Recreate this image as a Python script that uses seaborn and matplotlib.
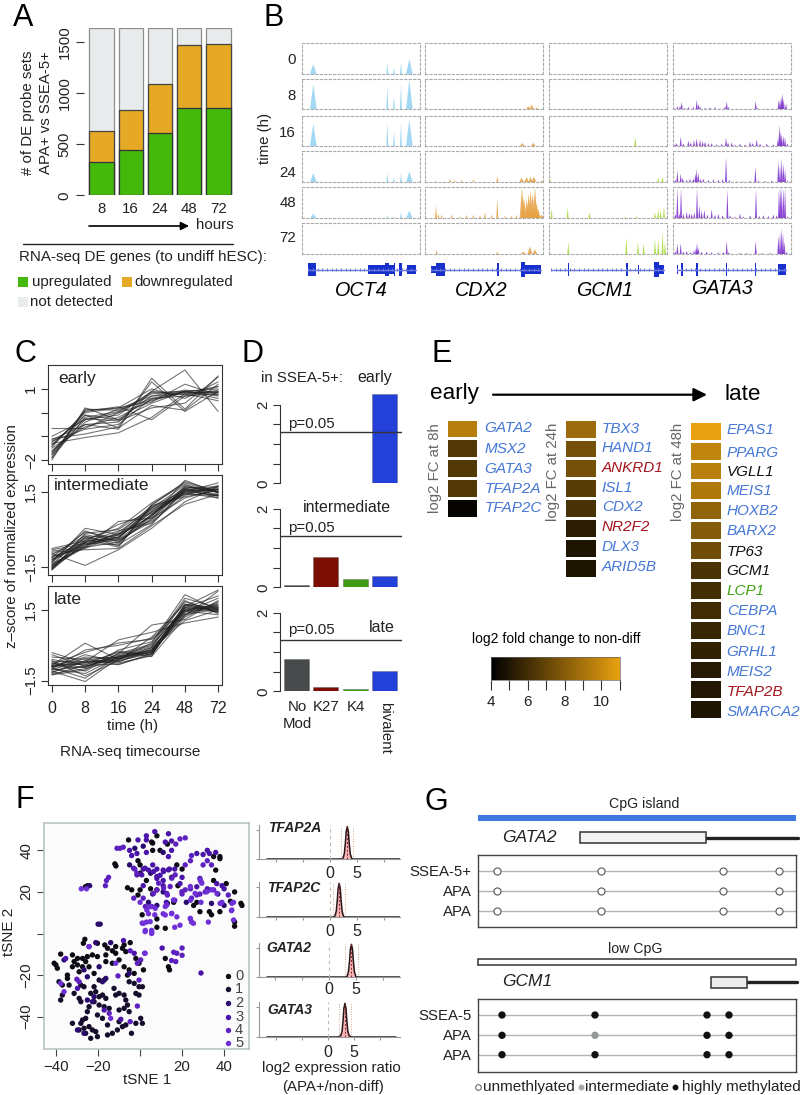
import numpy as np
import pandas as pd
import matplotlib
matplotlib.use("Agg")
import matplotlib.pyplot as plt
from matplotlib.colors import LinearSegmentedColormap
from matplotlib.cm import ScalarMappable
from matplotlib.colors import Normalize
from matplotlib.patches import Rectangle
import seaborn as sns

# ---------- Panel A data
hours = ["8", "16", "24", "48", "72"]
de_up = [325, 445, 615, 860, 855]
de_down = [305, 395, 480, 610, 625]
de_total = [1640, 1640, 1640, 1640, 1640]

# ---------- Panel B data (genomic bin, relative height)
track_times = ["0", "8", "16", "24", "48", "72"]
oct4_bins = [130, 352, 372, 393, 418]
oct4_heights = [[.33, .35, .2, .4, .5], [.85, .75, .45, .85, 1], [.75, .8, .5, .8, .9],
                [.3, .3, .15, .3, .35], [.15, .1, .06, .2, .25], [0, 0, 0, 0, 0]]
cdx2_tracks = [
    [],
    [(775, .1), (785, .16), (800, .05)],
    [(757, .1), (790, .1)],
    [(497, .05), (540, .12), (555, .07), (575, .08), (610, .1), (682, .2), (755, .15), (770, .17),
     (782, .17), (792, .18), (815, .05)],
    [(498, .42), (505, .15), (515, .12), (545, .13), (570, .06), (590, .12), (610, .12), (630, .1),
     (645, .2), (665, .12), (682, .65), (705, .08), (725, .08), (740, .12), (756, 1.0), (762, .7),
     (770, .6), (776, .8), (782, .9), (788, .8), (795, 1.0), (800, .5), (805, .3), (815, .12)],
    [(500, .12), (682, .08), (760, .08), (780, .25), (795, .15)],
]
gcm1_tracks = [
    [], [],
    [(1096, .3)],
    [(840, .15), (1165, .15), (1178, .2)],
    [(845, .3), (893, .35), (958, .2), (1065, .05), (1100, .07), (1155, .2), (1165, .3), (1172, .25), (1182, .4)],
    [(895, .4), (1069, .55), (1104, .4), (1121, .35), (1155, .5), (1165, .5), (1178, .75), (1185, .4)],
]
gata3_tracks = [
    [],
    [(1215, .03), (1222, .1), (1230, .12), (1235, .25), (1245, .05), (1255, .08), (1270, .08), (1280, .32), (1285, .18),
     (1290, .1), (1305, .05), (1320, .07), (1335, .08), (1350, .03), (1365, .1), (1370, .27), (1375, .08), (1400, .02),
     (1430, .02), (1457, .28), (1462, .05), (1490, .03), (1510, .03), (1526, .3), (1530, .35), (1534, .42), (1537, .55),
     (1541, .35), (1548, .2)],
    [(1215, .05), (1220, .1), (1232, .32), (1240, .08), (1255, .18), (1262, .12), (1272, .2), (1280, .25), (1290, .22),
     (1298, .16), (1305, .15), (1315, .1), (1325, .1), (1340, .06), (1355, .08), (1368, .28), (1374, .12), (1385, .12),
     (1395, .04), (1410, .08), (1425, .05), (1440, .14), (1448, .1), (1460, .22), (1470, .08), (1490, .08), (1510, .05),
     (1524, .25), (1528, .72), (1532, .5), (1535, .4), (1540, .35), (1545, .3), (1552, .08)],
    [(1216, .08), (1222, .37), (1232, .28), (1238, .15), (1250, .08), (1260, .12), (1270, .12), (1276, .28), (1280, .42),
     (1285, .3), (1292, .12), (1300, .12), (1315, .08), (1330, .1), (1345, .08), (1358, .1), (1368, .82), (1378, .08),
     (1400, .03), (1420, .03), (1440, .05), (1456, .5), (1465, .05), (1485, .05), (1505, .06), (1525, .7), (1530, .55),
     (1535, .78), (1540, .6), (1545, .42), (1553, .05)],
    [(1216, .15), (1222, 1), (1228, .15), (1233, 1), (1240, .15), (1250, .22), (1258, .18), (1265, .15), (1273, .2),
     (1281, 1), (1288, .42), (1295, .25), (1303, .28), (1312, .12), (1325, .3), (1335, .12), (1345, .15), (1358, .1),
     (1372, .95), (1380, .1), (1395, .05), (1410, .15), (1420, .06), (1440, .1), (1458, .95), (1468, .08), (1480, .1),
     (1495, .08), (1510, .12), (1520, .1), (1527, 1), (1531, 1), (1535, 1), (1540, 1), (1545, 1), (1553, .06)],
    [(1216, .08), (1222, .35), (1232, .35), (1240, .08), (1250, .1), (1262, .06), (1272, .12), (1278, .2), (1281, .37),
     (1285, .2), (1295, .07), (1310, .08), (1325, .06), (1345, .05), (1360, .06), (1370, .42), (1376, .05), (1410, .03),
     (1430, .03), (1457, .42), (1475, .03), (1500, .03), (1525, .6), (1530, .7), (1535, .85), (1539, .7), (1543, .4), (1550, .06)],
]
oct4_exons = [(115, 137, .9), (295, 345, .6), (345, 358, .9), (358, 372, .7), (372, 376, .9), (388, 396, .9), (410, 437, .7)]
cdx2_exons = [(483, 497, .5), (497, 524, .9), (680, 686, .9), (753, 766, 1), (766, 812, .6)]
gcm1_exons = [(893, 896, .9), (1069, 1074, .9), (1104, 1106, .7), (1121, 1123, .7), (1152, 1168, 1), (1168, 1182, .6)]
gata3_exons = [(1220, 1224, .6), (1232, 1240, .9), (1277, 1285, .9), (1368, 1371, .9), (1456, 1458, .9), (1525, 1548, .8)]

# ---------- Panel C data
time_labels = ["0", "8", "16", "24", "48", "72"]
early_lines = [
    [-2.0, 0.2, -0.3, 0.7, 0.8, 0.9], [-1.9, 0.15, 0.1, 0.6, 0.7, 0.8], [-1.8, 0.1, 0.2, 0.5, 0.9, 0.7],
    [-1.7, -0.1, -0.3, 0.4, 0.9, 1.0], [-1.65, -0.3, 0.0, 0.8, 0.85, 0.85], [-1.6, -0.5, -0.4, 0.9, 0.75, 1.1],
    [-1.5, -0.6, -0.2, 0.55, 0.85, 1.1], [-1.4, 0.0, 0.2, 1.0, 0.6, 1.3], [-1.35, -0.1, -0.65, 0.3, 0.1, 1.2],
    [-1.3, -1.05, -0.85, -0.2, 0.8, 0.5], [-1.2, -0.7, -0.5, 0.6, 0.9, 0.6], [-1.15, -0.5, -0.7, 1.45, 0.15, 1.55],
    [-1.1, -0.9, -0.6, 1.3, 0.05, 0.9], [-1.0, -0.3, -0.1, 0.9, 1.8, 0.05], [-0.67, -0.67, 0.0, 0.45, 1.2, 0.75],
    [-1.45, 0.05, 0.25, -0.3, 0.7, 0.95], [-1.25, -0.25, -0.35, 0.2, 0.4, 1.5], [-1.9, -0.2, 0.05, 0.85, 0.9, 0.75],
    [-1.75, -0.4, 0.15, 0.7, 0.95, 0.85],
]
intermediate_lines = [
    [-1.6, -0.5, -0.4, 0.6, 1.7, 1.5], [-1.55, -0.3, -0.25, 0.55, 1.6, 1.4], [-1.5, -0.6, -0.3, 0.7, 1.5, 1.6],
    [-1.45, -0.45, -0.35, 0.9, 1.55, 1.35], [-1.4, -0.2, -0.45, 0.4, 1.7, 1.5], [-1.35, -0.7, -0.1, 0.8, 1.4, 1.7],
    [-1.3, 0.05, -0.2, 0.5, 1.95, 1.45], [-1.25, -0.05, -0.5, 0.6, 1.45, 1.6], [-1.2, -0.35, -0.7, 1.0, 1.8, 1.3],
    [-1.15, -0.6, -0.4, 0.3, 1.35, 1.75], [-1.1, -0.5, -0.05, 0.25, 1.5, 1.85], [-1.05, -0.75, -0.2, 0.75, 1.65, 1.25],
    [-1.0, -0.25, -0.65, 0.95, 1.3, 1.55], [-0.95, -1.42, -0.8, 0.05, 1.1, 1.7], [-0.9, -0.8, -0.75, 0.15, 1.0, 1.4],
    [-0.85, -0.7, 0.32, 0.45, 1.25, 1.6], [-0.8, -0.55, -0.6, 0.2, 1.6, 1.5], [-0.75, -0.45, 0.2, 0.65, 1.4, 1.35],
    [-1.6, -0.15, 0.0, 0.85, 1.75, 1.5], [-1.5, -0.4, 0.05, 1.05, 1.85, 1.45], [-1.4, -0.65, -0.15, 0.35, 1.55, 1.6],
    [-1.3, -0.3, -0.55, 0.55, 1.6, 1.65], [-1.2, -0.55, -0.3, 0.7, 1.5, 1.35], [-1.55, -0.5, -0.2, 0.95, 1.9, 1.5],
    [-1.1, -0.1, -0.35, 0.85, 1.45, 1.25], [-1.45, -0.7, -0.5, 0.45, 1.65, 1.7],
]
late_lines = [
    [-1.25, -0.85, -0.8, -0.4, 1.6, 1.5], [-1.2, -1.0, -0.6, -0.3, 1.3, 1.8], [-1.15, -0.7, -0.75, -0.45, 1.7, 1.4],
    [-1.1, -1.54, -0.55, -0.2, 1.5, 1.6], [-1.05, -0.55, -0.83, -0.35, 1.4, 2.0], [-1.0, -1.2, -0.5, -0.1, 1.9, 1.35],
    [-0.95, -0.4, -0.7, -0.25, 1.25, 2.3], [-0.9, -0.95, -0.45, -0.05, 1.6, 1.55], [-0.85, 0.09, -0.6, 0.1, 2.15, 1.5],
    [-0.8, -0.3, 0.1, 0.25, 1.35, 1.7], [-0.75, -1.1, -0.35, 0.86, 1.1, 1.9], [-0.7, -0.7, 0.23, 0.55, 0.95, 1.2],
    [-0.65, -1.3, -0.65, 0.35, 1.75, 1.45], [-0.6, -0.85, -0.25, -0.4, 1.55, 1.7], [-0.5, -0.6, -0.5, -0.2, 1.45, 1.3],
    [-0.4, -0.9, -0.4, 0.0, 2.0, 1.6], [-0.31, -0.75, -0.3, -0.48, 1.2, 1.85], [-1.26, -1.05, -0.2, 0.15, 1.85, 1.4],
    [-1.0, -0.2, 0.0, 0.3, 1.5, 1.75], [-0.9, -0.5, -0.55, -0.3, 1.65, 2.35], [-1.15, -0.65, -0.7, -0.15, 1.05, 1.5],
    [-0.85, -0.8, -0.6, -0.1, 1.3, 1.55], [-0.95, -1.4, -0.45, -0.3, 1.75, 1.6], [-0.75, -0.95, -0.35, 0.05, 1.45, 1.65],
    [-1.05, -0.9, -0.5, -0.2, 1.6, 2.1], [-0.85, -0.7, -0.65, -0.35, 1.5, 1.45], [-0.9, -0.75, -0.55, -0.25, 1.7, 1.55],
]

# ---------- Panel D data
mark_labels = ["No\nMod", "K27", "K4", "bivalent"]
enrich_early = [0.01, 0.01, 0.01, 2.28]
enrich_intermediate = [0.05, 0.78, 0.2, 0.28]
enrich_late = [0.82, 0.12, 0.05, 0.52]
p_threshold = 1.3

# ---------- Panel E data
genes_8h = ["GATA2", "MSX2", "GATA3", "TFAP2A", "TFAP2C"]
fc_8h = [9.5, 6.5, 6.5, 6.5, 4.2]
genes_24h = ["TBX3", "HAND1", "ANKRD1", "ISL1", "CDX2", "NR2F2", "DLX3", "ARID5B"]
fc_24h = [8.7, 7.5, 7.5, 6.7, 6.2, 5.3, 4.9, 4.9]
genes_48h = ["EPAS1", "PPARG", "VGLL1", "MEIS1", "HOXB2", "BARX2", "TP63", "GCM1", "LCP1", "CEBPA", "BNC1",
             "GRHL1", "MEIS2", "TFAP2B", "SMARCA2"]
fc_48h = [11, 9.8, 9.6, 9.3, 8.4, 8.0, 7.4, 6.2, 6.0, 5.9, 5.7, 5.5, 5.2, 5.0, 4.9]

# ---------- Panel F data
tsne_c0 = [(-5.5, 45), (8, 47), (6, 43.5), (-12, 33.5), (-11.5, 32.5), (-25, 23), (-26, 22.5), (1, 9), (38, 37), (38, 36),
           (35, 37), (17.5, 33), (20, 31), (15, 27), (18, 23), (-6, 22), (-4, 21), (-1, 18.5), (0, 21), (5, 21.5),
           (8, 21), (3, 25.5), (0, 29), (-1, 35), (0, 33), (5.5, 44), (13, 43), (9.5, 40), (6, 40), (36, 30.5),
           (35, 25.5), (41, 24), (45, 20), (48, 14.5), (48.5, 13.5), (45, 5.5), (45, 3.5), (43, 15.5), (38, 10.5),
           (33, 10.5), (34, 9), (28.5, 10.5), (25.5, 13.5), (27, 15), (16, 15), (13, 14.5), (8, 7), (12, 2.5), (8, 3),
           (12, -12), (13.5, -16), (14, -17.5),
           (-26.3, -2.8), (-27, -4.7), (-20.3, -4.7), (-16.8, -5.5), (-15.5, -7.1), (-11.6, -6.3), (-7.6, -5.5), (-4.7, -4.4),
           (-13.2, -8.3), (-11.6, -9.5), (-8.4, -7.1), (-6.8, -8.7), (-2, -12), (1.6, -17.5), (-37.8, -9.9), (-40.1, -15.1),
           (-40.9, -14.3), (-39.4, -16.7), (-32.2, -10.3), (-31.4, -13.5), (-29.8, -12), (-27.4, -12), (-25.1, -11.1),
           (-25.9, -13.5), (-22.7, -10.3), (-20.3, -11.1), (-32.2, -16), (-29.8, -15.1), (-27.4, -16), (-29, -18.4), (-24.3, -16),
           (-21.9, -19.2), (-34.6, -20), (-34.6, -21.6), (-16.3, -10.3), (-16.3, -13.5), (-13.2, -14.3), (-10, -12.7),
           (-7.6, -16), (-5.2, -17.5), (-2.8, -19.2), (-6, -20), (-0.5, -14.3)]
tsne_c1 = [(-38.6, -23.2), (-37, -24.8), (-33.8, -24.8), (-28.2, -24.8), (-26.7, -25.6), (-21.9, -25.6), (-19.5, -22.4),
           (-17.1, -22.4), (-12.4, -26.4), (-10, -28.8), (-5.2, -23.2), (-2.8, -24), (-0.5, -25.6), (1.1, -25.6), (-2, -28.8),
           (-0.5, -29.6), (-37, -29.6), (-37.8, -32), (-31.4, -28.8), (-29, -31.2), (-28.2, -32.8), (-23.5, -28.8), (-21.1, -28),
           (-19.5, -30.4), (-17.9, -29.6), (-16.3, -31.2), (-11.6, -29.6), (-7.6, -29.6), (-6.8, -32), (-24.3, -35.2),
           (-25.1, -37.6), (-21.9, -32.8), (-19.5, -34.4), (-17.1, -35.2), (-14.7, -36), (-20.3, -39.2), (-17.9, -40.8),
           (-25.9, -40.8), (-27.4, -41.6), (-10, -36.8), (-7.6, -36), (-6, -34.4), (-5.2, -37.6), (-32.2, -43.2), (-28.2, -43.2),
           (-29, -46.4), (-26.7, -45.6), (-24.3, -44.8), (-22.7, -46.4), (-21.1, -47.2), (-25.9, -48), (-23.5, -50.4),
           (-20.3, -49.6), (-15.5, -44), (-15.5, -48.8), (-13.2, -48), (-10.8, -46.4), (-8.4, -44.8), (-6.8, -44), (-4.1, -48),
           (-2, -43.2), (0.3, -40.8), (1.1, -43.2), (-10, -42.4)]
tsne_c2 = [(-20, 4.5), (-19, 4.5), (-24, 23), (-2.5, 41), (1.5, 42), (11, 39), (4, 15), (8, 13.5), (22, 15), (34, 14.5), (40, 13.5),
           (37, 19), (6, 19), (11, 20), (-5, 33), (5, 29), (-24.3, -6.3), (-21.1, -4.4), (-14, -4.4), (-19.5, -16), (-26.7, -17.5),
           (-25.1, -20.8), (-36.2, -12.7), (-16.3, -21.6), (-17.9, -23.2), (-21.9, -30.4), (-22.7, -32.8), (-25.1, -32),
           (-29.8, -46.4), (-26.7, -48), (-5.2, -19.2)]
tsne_c3 = [(7, 49), (13.5, 48), (3, 47), (-1, 45), (3, 45), (15, 44.5), (12, 44), (-5, 40), (-4, 37.5), (-1.5, 38.5), (3, 39),
           (15, 40), (13.5, 37), (32, 40), (30, 38), (27, 38.5), (36, 39), (33, 38.5), (1.5, 31), (4, 30.5), (8, 31), (11, 30.5),
           (14, 31), (16.5, 31), (9.5, 28), (6, 33), (28.5, 26.5), (29, 25), (20, 27), (19, 24), (11, 25.5), (8, 26.5), (1.5, 23),
           (36.5, 24), (32, 21.5), (33, 21), (39, 23), (40, 21.5), (27, 22.5), (11, 23), (10.5, -7), (12.5, 15), (29, -19),
           (-3.1, 31.4), (-1.5, 28.2), (0.8, 28.2), (2.4, 31.4), (6.4, 29.8), (8, 27.4), (11.2, 29.8), (13.5, 30.6),
           (-7.9, -3.4), (-2.8, -9.5), (-35.4, -12), (-29.8, -26.4), (-17.1, -36.8), (-9.2, -41.3)]
tsne_c4 = [(21.5, 46), (19, 45.5), (17, 43), (-11, 41), (-9.5, 41), (-8, 41.5), (24.5, 37.5), (24, 35), (32, 35), (34, 33), (30, 33),
           (-2.5, 31), (-1.5, 29), (21.5, 33), (-15, 27), (-16, 25.5), (-16.5, 23), (21.5, 21), (24, 21.5), (13, 18.5), (28.5, 19),
           (31, 20), (35, 21), (42, 18.5), (1.5, 17), (24.5, 17), (27, 18.5), (-3, 17), (20, 19), (16.5, 16), (5.5, 13), (2.5, 13),
           (16, -9), (17.5, -9.5), (20, -7), (20, -10.5), (15, -13), (17, -13.5),
           (15.1, 26.6), (16.7, 28.2), (8.8, 24.2), (11.2, 21.8), (12.7, 19.3), (14.3, 22.6), (6.4, 19.3), (8, 21), (19.9, 20.1),
           (-4.7, -8.3), (2.2, -9.5), (0.3, -12.7), (-1.3, -14.3), (-10.5, -20.4), (-30.1, -22), (-29, -23.2), (-14.7, -38.4),
           (-4.7, -42.4), (-1.3, -34.9), (-0.5, -22.4)]
tsne_c5 = [(24, 16), (29, 15), (39, 15), (44.5, 15), (43.5, 11), (0, 15), (12, 13), (4, 9.5), (7, 9), (11, 9.5), (15, 9.5), (17.5, 8),
           (24.5, 5.5), (24, 7), (19, 4), (32.5, 5.5), (44.5, 6.5), (1, 5), (3, 5.5), (2.5, 1.5), (5.5, 0), (5.5, 1.5), (16.5, 3),
           (-28, 21.5), (-25.5, 21.5), (2.4, -9.5),
           (23.9, 22.6), (26.2, 19.3), (31.8, 20.1), (34.2, 21), (36.6, 19.3), (4.8, 12.9), (7.2, 12.1), (3.2, 11.3), (15.9, 16.1),
           (12.7, 13.7), (1.6, 4.9), (4.8, 5.7), (2.4, 0.9), (5.6, 0.6), (15.1, 9.7), (12, 8.9), (23.9, 7.3), (25.4, 4.9),
           (28.6, 25.8), (29.4, 24.2), (38.1, 14.5), (43.7, 14.5), (43.7, 11.3),
           (-11.6, -14.3), (-24.3, -6.3), (-14, -40.8), (-37.8, -24), (-36.2, -28)]
cluster_labels = ["0", "1", "2", "3", "4", "5"]
density_genes = ["TFAP2A", "TFAP2C", "GATA2", "GATA3"]
density_peaks = [3.2, 1.7, 4.1, 3.2]
density_offset = [-1.2, -0.8, -0.55, -0.35, -0.2, 0, 0.2, 0.35, 0.55, 0.8, 1.2]
density_shape = [0, 0.03, 0.17, 0.5, 0.85, 1, 0.85, 0.5, 0.17, 0.03, 0]

# ---------- Panel G data
gata2_cpg = [19, 123, 245, 301]
gcm1_cpg = [24, 117, 229, 251]
sample_rows_gata2 = ["SSEA-5+", "APA", "APA"]
sample_rows_gcm1 = ["SSEA-5", "APA", "APA"]
gcm1_meth = [["high", "high", "high", "high"], ["high", "mid", "high", "high"], ["high", "high", "high", "high"]]

# ---------- Setup
sns.set_theme(style="ticks", rc={"axes.linewidth": 0.8, "xtick.major.width": 0.8, "ytick.major.width": 0.8})
plt.rcParams["font.family"] = ["Liberation Sans", "DejaVu Sans"]
W, H = 800, 1095
fig = plt.figure(figsize=(W / 100, H / 100), dpi=100, facecolor="white")
TXT = "#222222"


def axpx(l, t, r, b, **kw):
    return fig.add_axes([l / W, 1 - b / H, (r - l) / W, (b - t) / H], **kw)


def T(x, y, s, size=10.8, ha="left", va="center", color=TXT, **kw):
    return fig.text(x / W, 1 - y / H, s, fontsize=size, ha=ha, va=va, color=color, **kw)


ov = axpx(0, 0, W, H, zorder=10)
ov.set_xlim(0, W)
ov.set_ylim(H, 0)
ov.axis("off")
ov.patch.set_alpha(0)


def arrow(x0, x1, y, lw=1.2, ms=12):
    ov.annotate("", xy=(x1, y), xytext=(x0, y),
                arrowprops=dict(arrowstyle="-|>", lw=lw, color="black", mutation_scale=ms, shrinkA=0, shrinkB=0))


for s, x, y in [("A", 13, 18), ("B", 263, 18), ("C", 14, 354), ("D", 241, 354), ("E", 432, 354), ("F", 15, 800), ("G", 424, 802)]:
    T(x, y, s, size=22, color="black")

# ---------- Panel A
ax = axpx(84, 28, 233, 195.3)
for vals, col, edge in [(de_total, "#e9ecec", "#8e8e8e"),
                        (np.add(de_up, de_down), "#e5a925", "#444444"),
                        (de_up, "#45b80c", "#333333")]:
    sns.barplot(x=hours, y=vals, color=col, order=hours, width=0.83, saturation=1, edgecolor=edge, linewidth=0.9, ax=ax)
ax.set_xlim(-0.6, 4.5)
ax.set_ylim(0, 1640)
sns.despine(ax=ax, left=True, bottom=True, top=True, right=True)
ax.set_yticks([0, 500, 1000, 1500])
ax.tick_params(axis="y", labelrotation=90, length=6, pad=3, labelsize=10.8, color="#333333", labelcolor=TXT)
for lab in ax.get_yticklabels():
    lab.set_va("center")
ax.tick_params(axis="x", length=0, pad=5, labelsize=10.8, labelcolor=TXT)
T(28, 113, "# of DE probe sets", rotation=90, ha="center")
T(45.7, 113, "APA+ vs SSEA-5+", rotation=90, ha="center")
arrow(89, 189, 226)
T(196, 224.7, "hours")
ov.plot([22.7, 233], [243.7, 243.7], color="#222222", lw=1)
T(19, 257, "RNA-seq DE genes (to undiff hESC):", size=10.9)
for x0, y0, c in [(18, 277, "#45b80c"), (122, 277, "#e5a925"), (18, 297, "#e9ecec")]:
    ov.add_patch(Rectangle((x0, y0), 10, 10, color=c, lw=0))
T(32, 281.7, "upregulated")
T(134, 281.7, "downregulated")
T(30, 301.7, "not detected")

# ---------- Panel B
rows_px = [(43.3, 74), (79, 109.3), (115.7, 146), (150.7, 182.3), (187, 218.3), (222.7, 254)]
cols_px = [(302.3, 420), (425, 543.3), (549.3, 667.3), (672.7, 790.7)]
bin_limits = [(97, 450), (465, 820), (838, 1192), (1208, 1562)]
oct4_tracks = [[(b, h) for b, h in zip(oct4_bins, row)] for row in oct4_heights]
all_tracks = [oct4_tracks, cdx2_tracks, gcm1_tracks, gata3_tracks]
track_cols = ["#92d2f2", "#e6a040", "#a8dc3c", "#7a2ccc"]
for c, ((l, r), lim, tracks, col) in enumerate(zip(cols_px, bin_limits, all_tracks, track_cols)):
    for (t, b), tr in zip(rows_px, tracks):
        a = axpx(l, t, r, b)
        a.set_xlim(*lim)
        a.set_ylim(0, 1.02)
        a.set_xticks([])
        a.set_yticks([])
        for sp in a.spines.values():
            sp.set_linestyle((0, (2, 2)))
            sp.set_color("#aaaaaa")
            sp.set_linewidth(0.8)
        for pos, h in tr:
            hw = 10 if (c == 0 and pos in (130, 418)) else (7 if c == 1 and pos > 750 else 3)
            a.fill([pos - hw, pos, pos + hw], [0, h, 0], color=col, lw=0, alpha=0.85 if c != 2 else 0.9)
for lab, (t, b) , y in zip(track_times, rows_px, [60, 96, 132.7, 172.7, 202.7, 237.7]):
    T(296, y, lab, ha="right")
T(265, 138, "time (h)", rotation=90, ha="center")

all_exons = [oct4_exons, cdx2_exons, gcm1_exons, gata3_exons]
for (l, r), lim, exons in zip(cols_px, bin_limits, all_exons):
    a = axpx(l, 258, r, 281)
    a.set_xlim(*lim)
    a.set_ylim(-1, 1)
    a.axis("off")
    start, end = exons[0][0], exons[-1][1]
    if lim[0] == 838:
        start = 843
    a.plot([start, end], [0, 0], color="#6a78dd", lw=1)
    a.vlines(np.arange(start, end, 14), -0.13, 0.13, color="#6a78dd", lw=0.7)
    for x0, x1, h in exons:
        a.add_patch(Rectangle((x0, -h * 0.62), x1 - x0, h * 1.24, color="#1730cc", lw=0))
for s, x, y in [("OCT4", 361.7, 291), ("CDX2", 481.7, 291), ("GCM1", 605, 290), ("GATA3", 721.7, 288.7)]:
    T(x, y, s, size=14.2, ha="center", style="italic", color="black")

# ---------- Panel C
line_sets = [early_lines, intermediate_lines, late_lines]
boxes = [(365, 464.3), (475.3, 575), (586, 685.3)]
ylims = [(-2.18, 2.01), (-1.8, 2.15), (-1.7, 2.52)]
yt = [([-2, -1, 0, 1], ["\u22122", "", "", "1"]), ([-1.5, 1.5], ["\u22121.5", "1.5"]), ([-1.5, 1.5], ["\u22121.5", "1.5"])]
for i, (lines, (t, b), yl, (ticks, labs)) in enumerate(zip(line_sets, boxes, ylims, yt)):
    a = axpx(47.7, t, 222.3, b)
    df = pd.DataFrame(lines, columns=range(6)).reset_index(names="gene").melt("gene", var_name="t", value_name="z")
    sns.lineplot(data=df, x="t", y="z", units="gene", estimator=None, color="#202020", lw=0.8, alpha=0.62, ax=a)
    a.set_xlim(-0.125, 5.125)
    a.set_ylim(*yl)
    a.set_xlabel("")
    a.set_ylabel("")
    a.set_xticks(range(6))
    a.set_xticklabels(time_labels if i == 2 else [])
    a.set_yticks(ticks)
    a.set_yticklabels(labs)
    a.tick_params(axis="y", labelrotation=90, length=5, pad=2, labelsize=10.8, color="#333333", labelcolor=TXT)
    for lab in a.get_yticklabels():
        lab.set_va("center")
    a.tick_params(axis="x", length=5, pad=6, labelsize=11.5, color="#333333", labelcolor=TXT)
    for sp in a.spines.values():
        sp.set_color("#333333")
T(58, 378, "early", size=12.5)
T(54, 486, "intermediate", size=12.5)
T(54, 600, "late", size=12.5)
T(12.3, 536, "z\u2013score of normalized expression", size=10.8, rotation=90, ha="center")
T(132.7, 726, "time (h)", ha="center", size=10.8)
T(130, 752, "RNA-seq timecourse", ha="center", size=11)

# ---------- Panel D
bar_cols = ["#474b4c", "#7b0d04", "#3f9a14", "#2340d8"]
for vals, zero, top in [(enrich_early, 483.3, 389), (enrich_intermediate, 587.3, 500), (enrich_late, 691.3, 604)]:
    a = axpx(280, top, 402, zero)
    sns.barplot(x=mark_labels, y=vals, hue=mark_labels, palette=bar_cols, order=mark_labels, width=0.85, saturation=1,
                legend=False, edgecolor="#55555588", linewidth=0.5, ax=a)
    a.set_xlim(-0.563, 3.6)
    a.set_ylim(0, (zero - top) / 39.25)
    a.axhline(p_threshold, color="#333333", lw=1)
    sns.despine(ax=a, bottom=True)
    a.spines["left"].set_bounds(0, 2)
    a.set_xticks([])
    a.set_yticks([0, 0.5, 1, 1.5, 2])
    a.set_yticklabels(["0", "", "", "", "2"])
    a.tick_params(axis="y", labelrotation=90, length=5, pad=2, labelsize=10.8, color="#333333", labelcolor=TXT)
    for lab in a.get_yticklabels():
        lab.set_va("center")
    a.spines["left"].set_color("#333333")
T(261, 377.7, "in SSEA-5+:")
T(357, 377.7, "early", size=11.5)
T(303, 508, "intermediate", size=11.5)
T(369, 627, "late", size=11.5)
for y in (424, 527.7, 630):
    T(288, y, "p=0.05", size=10.8)
T(297, 706.7, "No", ha="center", size=10.8)
T(297, 724, "Mod", ha="center", size=10.8)
T(326, 706.7, "K27", ha="center", size=10.8)
T(356, 706.7, "K4", ha="center", size=10.8)
T(385, 702, "bivalent", rotation=-90, ha="center", va="top", size=10.8)

# ---------- Panel E
fc_cmap = LinearSegmentedColormap.from_list("fc", ["#000000", "#e8a010"])
gene_col = {"red": "#a5141e", "green": "#3fa315", "black": "#111111", "blue": "#4577d6"}
red_genes = {"ANKRD1", "NR2F2", "TFAP2B"}
black_genes = {"VGLL1", "TP63", "GCM1"}
green_genes = {"LCP1"}
hm = [(fc_8h, genes_8h, (445.7, 418.7, 478.3, 517.7), 484.3, [295, 358, 418, 477, 535]),
      (fc_24h, genes_24h, (564, 418.7, 596.7, 577.7), 601.7, [296, 353, 415, 474, 530, 592, 652, 712]),
      (fc_48h, genes_48h, (689, 420.7, 721.7, 719.3), 726.7,
       [300, 368, 426, 483, 543, 603, 665, 722, 784, 844, 903, 965, 1025, 1085, 1145])]
for vals, genes, box, xlab, zys in hm:
    a = axpx(*box)
    sns.heatmap(np.array(vals).reshape(-1, 1), cmap=fc_cmap, vmin=4, vmax=11, cbar=False, linewidths=0.9, linecolor="white",
                xticklabels=False, yticklabels=False, ax=a)
    for g, zy in zip(genes, zys):
        c = gene_col["red"] if g in red_genes else gene_col["black"] if g in black_genes else gene_col["green"] if g in green_genes else gene_col["blue"]
        T(xlab, 330 + zy / 3, g, size=11, style="italic", color=c)
T(435, 467.7, "log2 FC at 8h", size=10.8, rotation=90, ha="center", color="#666666")
T(553, 471.7, "log2 FC at 24h", size=10.8, rotation=90, ha="center", color="#666666")
T(678, 472.3, "log2 FC at 48h", size=10.8, rotation=90, ha="center", color="#666666")
T(430, 393, "early", size=16.2, color="black")
T(724, 395, "late", size=16.2, color="black")
arrow(493, 707, 394.7, lw=1.6, ms=20)
T(556.7, 639, "log2 fold change to non-diff", ha="center", size=10, color="black")
cax = axpx(491, 657.3, 619.7, 680)
cb = fig.colorbar(ScalarMappable(Normalize(4, 11), fc_cmap), cax=cax, orientation="horizontal")
cb.set_ticks(range(4, 12))
cb.set_ticklabels(["4", "", "6", "", "8", "", "10", ""])
cb.ax.tick_params(length=7, width=0.8, labelsize=11, labelcolor=TXT, pad=4, color="#333333")
cb.outline.set_edgecolor("#666666")
cb.outline.set_linewidth(0.5)

# ---------- Panel F
cluster_cols = ["#0d0a14", "#160d2c", "#2b0a70", "#4a14a8", "#5f20c0", "#7030d8"]
clusters = [tsne_c0, tsne_c1, tsne_c2, tsne_c3, tsne_c4, tsne_c5]
tsne_df = pd.concat([pd.DataFrame(pts, columns=["x", "y"]).assign(cluster=lab)
                     for pts, lab in zip(clusters, cluster_labels)])
a = axpx(44.3, 822.7, 249.3, 1049.3)
a.set_facecolor("#fbfbfb")
sns.scatterplot(data=tsne_df, x="x", y="y", hue="cluster", palette=dict(zip(cluster_labels, cluster_cols)), s=15, lw=0, legend=False, ax=a)
a.set_xlim(-45.6, 52)
a.set_ylim(-55.7, 53.3)
a.set_xlabel("")
a.set_ylabel("")
a.set_xticks([-40, -20, 0, 20, 40])
a.set_xticklabels(["\u221240", "\u221220", "", "20", "40"])
a.set_yticks([-40, -20, 0, 20, 40])
a.set_yticklabels(["\u221240", "\u221220", "", "20", "40"])
a.tick_params(axis="x", length=5, labelsize=10.8, pad=3, color="#444444", labelcolor=TXT)
a.tick_params(axis="y", labelrotation=90, length=5, labelsize=10.8, pad=3, color="#444444", labelcolor=TXT)
for lab in a.get_yticklabels():
    lab.set_va("center")
for sp in a.spines.values():
    sp.set_color("#b8c4c0")
    sp.set_linewidth(1.2)
for lab, col, zy in zip(cluster_labels, cluster_cols, [617, 658, 699, 740, 780, 818]):
    y = 770 + zy / 3
    ov.scatter([228.3], [y], s=15, color=col, lw=0)
    T(235, y, lab, size=10.5, color="#444444")
T(147, 1080, "tSNE 1", ha="center", size=11)
T(9, 931.7, "tSNE 2", ha="center", rotation=90, size=11)

dens_boxes = [(825, 859.3, 330, 5.4, 873.3, 268, 828), (881.7, 917.3, 330, 5.4, 931.7, 267, 888),
              (942.7, 977.3, 329.3, 5.4, 990, 266, 948), (1001.7, 1036.7, 328.3, 5.2, 1052.7, 267, 1010)]
for gene, peak, (top, base, zero_px, scale, ylab, xt, yt_) in zip(density_genes, density_peaks, dens_boxes):
    a = axpx(259, top, 400, base)
    xs = np.array(density_offset) + peak
    a.fill_between(xs, density_shape, color="#f4b4b4", lw=0)
    sns.lineplot(x=xs, y=density_shape, color="#2a1416", lw=1.1, ax=a, errorbar=None, sort=False)
    a.plot([(267 - zero_px) / scale, peak - 1.2], [0, 0], color="#222222", lw=1.1)
    a.plot([peak + 1.2, 13], [0, 0], color="#222222", lw=1.1)
    a.axvline(0, color="#bbbbbb", lw=0.8, ls=(0, (3, 3)))
    a.axvline(peak, color="#8a1f2a", lw=0.7, ls=(0, (2, 2)))
    a.axvline(peak - 1.15, color="#c48a60", lw=0.6, ls=(0, (1, 2)), ymax=0.95)
    a.axvline(peak + 1.15, color="#c48a60", lw=0.6, ls=(0, (1, 2)), ymax=0.95)
    a.set_xlim((259 - zero_px) / scale, (400 - zero_px) / scale)
    a.set_ylim(0, 1.05)
    sns.despine(ax=a)
    a.spines["left"].set_color("#999999")
    a.spines["bottom"].set_color("#999999")
    a.set_xticks([-10, -5, 0, 5, 10])
    a.set_xticklabels([])
    a.set_yticks([0, 0.9])
    a.set_yticklabels([])
    a.tick_params(length=2.5, color="#999999")
    T(zero_px, ylab, "0", ha="center", size=11.5)
    T(zero_px + 5 * scale, ylab, "5", ha="center", size=11.5)
    T(xt, yt_, gene, size=10, style="italic", weight="bold")
T(331, 1068.3, "log2 expression ratio", ha="center", size=10.8)
T(333, 1086.7, "(APA+/non-diff)", ha="center", size=10.8)

# ---------- Panel G
ov.add_patch(Rectangle((478, 814.7), 318, 6, color="#3f78e0", lw=0))
T(644, 804, "CpG island", ha="center", size=10.2)
T(501.7, 838, "GATA2", size=12.5, style="italic")
ov.add_patch(Rectangle((580.3, 832), 125.7, 11, facecolor="#f1f3f3", edgecolor="#333333", lw=1.1, zorder=3))
ov.plot([706, 798], [837.5, 837.5], color="#222222", lw=2.4)
T(635, 949.3, "low CpG", ha="center", size=10.2)
ov.add_patch(Rectangle((478, 959.3), 318, 6, facecolor="white", edgecolor="#333333", lw=1.1))
T(501.7, 981.7, "GCM1", size=12.5, style="italic")
ov.add_patch(Rectangle((711.3, 976.7), 35.4, 11.3, facecolor="#eceeee", edgecolor="#333333", lw=1.1, zorder=3))
ov.plot([746.7, 797], [982, 982], color="#222222", lw=2.4)

for (t, b), cpg, rows, ycent in [((855, 927.3), gata2_cpg, sample_rows_gata2, [870.7, 890.7, 910.7]),
                                 ((999.3, 1072.3), gcm1_cpg, sample_rows_gcm1, [1015, 1035.3, 1054.7])]:
    a = axpx(478, t, 796, b)
    a.set_xlim(0, 318)
    a.set_ylim(b - t, 0)
    a.set_xticks([])
    a.set_yticks([])
    for sp in a.spines.values():
        sp.set_color("#444444")
        sp.set_linewidth(1)
    for i, y in enumerate(ycent):
        yy = y - t
        a.axhline(yy, color="#b0b4b4", lw=1, zorder=1)
        T(471.7, y + 1, rows[i], ha="right", size=10.8)
        if cpg is gata2_cpg:
            sns.scatterplot(x=cpg, y=[yy] * 4, s=26, facecolor="white", edgecolor="#555555", linewidth=0.8, zorder=3, ax=a, legend=False)
        else:
            cols = ["#111111" if m == "high" else "#909898" for m in gcm1_meth[i]]
            a.scatter(cpg, [yy] * 4, s=28, c=cols, zorder=3, lw=0)
    a.set_xlim(0, 318)
    a.set_ylim(b - t, 0)
    a.set_xlabel("")
    a.set_ylabel("")
ov.scatter([477.7], [1087], s=16, facecolor="white", edgecolor="#555555", lw=0.7)
ov.scatter([580.7], [1087], s=18, color="#a5abab", lw=0)
ov.scatter([675.3], [1087], s=18, color="#111111", lw=0)
T(483.3, 1086.7, "unmethlyated", size=11)
T(585, 1086.7, "intermediate", size=11)
T(681.7, 1086.7, "highly methylated", size=11)

fig.savefig("out.png", dpi=100, facecolor="white")
